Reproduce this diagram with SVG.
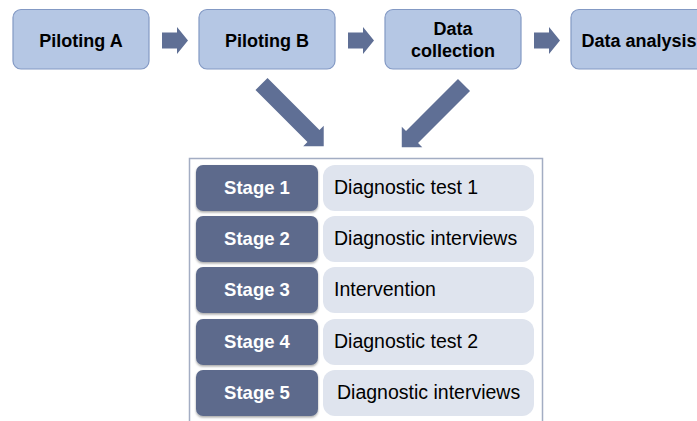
<svg xmlns="http://www.w3.org/2000/svg" width="697" height="421" viewBox="0 0 697 421">
<defs>
<filter id="sh" x="-10%" y="-10%" width="130%" height="140%">
<feDropShadow dx="0" dy="1.5" stdDeviation="1.2" flood-color="#000" flood-opacity="0.35"/>
</filter>
<style>
.top{fill:#b5c7e4;stroke:#8399c4;stroke-width:1.2}
.tt{font-family:"Liberation Sans",Arial,sans-serif;font-weight:bold;font-size:18px;fill:#000;text-anchor:middle}
.arr{fill:#5f6f95}
.stage{fill:#5d6b8c;filter:url(#sh)}
.st{font-family:"Liberation Sans",Arial,sans-serif;font-weight:bold;font-size:18.5px;fill:#fff;text-anchor:middle}
.desc{fill:#dfe4ee}
.dt{font-family:"Liberation Sans",Arial,sans-serif;font-size:19.5px;fill:#000}
</style>
</defs>
<rect width="697" height="421" fill="#fff"/>
<g id="pilotingA"><rect class="top" x="13" y="9.5" width="136" height="59.5" rx="8"/><text class="tt" x="81" y="47">Piloting A</text></g>
<g id="pilotingB"><rect class="top" x="199" y="9.5" width="136" height="59.5" rx="8"/><text class="tt" x="267" y="47">Piloting B</text></g>
<g id="dataCollection"><rect class="top" x="385" y="9.5" width="136" height="59.5" rx="8"/><text class="tt" x="453" y="35">Data</text><text class="tt" x="453" y="57">collection</text></g>
<g id="dataAnalysis"><rect class="top" x="571" y="9.5" width="136" height="59.5" rx="8"/><text class="tt" x="639" y="47">Data analysis</text></g>
<g id="connectors">
<polygon class="arr" points="0,-8 15,-8 15,-13.5 26,0 15,13.5 15,8 0,8" transform="translate(162,40.5)"/>
<polygon class="arr" points="0,-8 15,-8 15,-13.5 26,0 15,13.5 15,8 0,8" transform="translate(348,40.5)"/>
<polygon class="arr" points="0,-8 15,-8 15,-13.5 26,0 15,13.5 15,8 0,8" transform="translate(534,40.5)"/>
<polygon class="arr" points="0,-8.5 73.5,-8.5 73.5,-14.5 88,0 73.5,14.5 73.5,8.5 0,8.5" transform="translate(261.5,84) rotate(45)"/>
<polygon class="arr" points="0,-8.5 73.5,-8.5 73.5,-14.5 88,0 73.5,14.5 73.5,8.5 0,8.5" transform="translate(464,85) rotate(135)"/>
</g>
<g id="stages">
<rect x="189.5" y="158.5" width="353" height="270" fill="#fff" stroke="#a3adc3" stroke-width="1.5"/>
<g id="stage1"><rect class="stage" x="196" y="165" width="122" height="46" rx="7"/><text class="st" x="257" y="193.5">Stage 1</text><rect class="desc" x="323" y="165" width="211" height="46" rx="12"/><text class="dt" x="334" y="194">Diagnostic test 1</text></g>
<g id="stage2"><rect class="stage" x="196" y="216" width="122" height="46" rx="7"/><text class="st" x="257" y="244.5">Stage 2</text><rect class="desc" x="323" y="216" width="211" height="46" rx="12"/><text class="dt" x="334" y="245">Diagnostic interviews</text></g>
<g id="stage3"><rect class="stage" x="196" y="267" width="122" height="46" rx="7"/><text class="st" x="257" y="295.5">Stage 3</text><rect class="desc" x="323" y="267" width="211" height="46" rx="12"/><text class="dt" x="334" y="296">Intervention</text></g>
<g id="stage4"><rect class="stage" x="196" y="319" width="122" height="46" rx="7"/><text class="st" x="257" y="347.5">Stage 4</text><rect class="desc" x="323" y="319" width="211" height="46" rx="12"/><text class="dt" x="334" y="348">Diagnostic test 2</text></g>
<g id="stage5"><rect class="stage" x="196" y="370" width="122" height="46" rx="7"/><text class="st" x="257" y="398.5">Stage 5</text><rect class="desc" x="323" y="370" width="211" height="46" rx="12"/><text class="dt" x="337" y="399">Diagnostic interviews</text></g>
</g>
</svg>
